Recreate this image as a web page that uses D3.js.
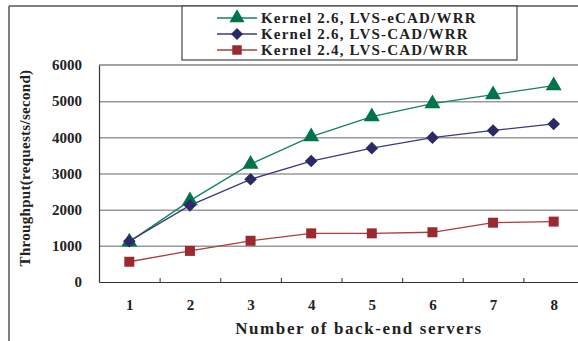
<!DOCTYPE html>
<html>
<head>
<meta charset="utf-8">
<script src="https://cdn.jsdelivr.net/npm/d3@7"></script>
<style>
  body { margin: 0; background: #fff; }
  svg { display: block; font-family: "Liberation Serif", "Times New Roman", serif; font-weight: bold; }
</style>
</head>
<body>
<svg id="chart" width="578" height="341"></svg>
<script>
// data
var servers = [1, 2, 3, 4, 5, 6, 7, 8];
var ecad26 = [1110, 2250, 3260, 4020, 4570, 4930, 5180, 5430];
var cad26 = [1130, 2120, 2840, 3345, 3700, 3990, 4190, 4370];
var cad24 = [560, 860, 1140, 1345, 1345, 1375, 1640, 1670];
var yTicks = [0, 1000, 2000, 3000, 4000, 5000, 6000];
var seriesNames = ["Kernel 2.6, LVS-eCAD/WRR", "Kernel 2.6, LVS-CAD/WRR", "Kernel 2.4, LVS-CAD/WRR"];

var svg = d3.select("#chart");

var plotLeft = 99, plotRight = 584, plotTop = 65, plotBottom = 282;

var x = d3.scaleLinear().domain([0.5, 8.5]).range([plotLeft, plotRight]);
var y = d3.scaleLinear().domain([0, 6000]).range([plotBottom, plotTop]);

// diamond = square turned 45deg
var series = [
  { name: seriesNames[0], values: ecad26, line: "#13845a", fill: "#00744a", shape: d3.symbolTriangle, size: 110, rot: 0 },
  { name: seriesNames[1], values: cad26, line: "#3b3b82", fill: "#2c2a66", shape: d3.symbolSquare, size: 80, rot: 45 },
  { name: seriesNames[2], values: cad24, line: "#b03a3e", fill: "#9a2a30", shape: d3.symbolSquare, size: 100, rot: 0 }
];

// outer frame (top + left only visible)
svg.append("line").attr("x1", 9).attr("x2", 578).attr("y1", 6).attr("y2", 6)
  .attr("stroke", "#555").attr("stroke-width", 1.5);
svg.append("line").attr("x1", 9).attr("x2", 9).attr("y1", 6).attr("y2", 341)
  .attr("stroke", "#555").attr("stroke-width", 1.5);

// gridlines
svg.append("g")
  .attr("transform", "translate(" + plotLeft + ",0)")
  .call(d3.axisLeft(y).tickValues(yTicks.slice(1, -1)).tickSize(-(plotRight - plotLeft)).tickFormat(""))
  .call(function(g) { g.select(".domain").remove(); })
  .selectAll("line").attr("stroke", "#999").attr("stroke-width", 1.5);

// plot border top
svg.append("line").attr("x1", plotLeft).attr("x2", 578).attr("y1", plotTop).attr("y2", plotTop)
  .attr("stroke", "#444").attr("stroke-width", 1.2);

// y axis labels
var yAxis = svg.append("g")
  .attr("transform", "translate(" + plotLeft + ",0)")
  .call(d3.axisLeft(y).tickValues(yTicks).tickSize(0).tickPadding(17).tickFormat(d3.format("d")));
yAxis.select(".domain").attr("stroke", "#333").attr("stroke-width", 1.2);
yAxis.selectAll("text").attr("font-family", "Liberation Serif").attr("font-weight", "bold")
  .attr("font-size", 15).attr("fill", "#222");

// x axis: ticks between categories
var xAxis = svg.append("g")
  .attr("transform", "translate(0," + plotBottom + ")")
  .call(d3.axisBottom(x).tickValues(servers.slice(0, -1).map(function(d) { return d + 0.5; }))
    .tickSize(-4).tickSizeOuter(0).tickFormat(""));
xAxis.select(".domain").attr("stroke", "#333").attr("stroke-width", 1.2);
xAxis.selectAll("line").attr("stroke", "#333");

var xLabels = svg.append("g")
  .attr("transform", "translate(0," + plotBottom + ")")
  .call(d3.axisBottom(x).tickValues(servers).tickSize(0).tickPadding(17));
xLabels.select(".domain").remove();
xLabels.selectAll("text").attr("font-family", "Liberation Serif").attr("font-weight", "bold")
  .attr("font-size", 15).attr("fill", "#222");

// axis titles
svg.append("text")
  .attr("x", 359).attr("y", 334)
  .attr("text-anchor", "middle")
  .attr("font-size", 17).attr("fill", "#222")
  .attr("letter-spacing", "1.6")
  .text("Number of back-end servers");

svg.append("text")
  .attr("transform", "translate(30,168) rotate(-90)")
  .attr("text-anchor", "middle")
  .attr("font-size", 15).attr("fill", "#222")
  .attr("letter-spacing", "0.3")
  .text("Throughput(requests/second)");

// lines and markers
var line = d3.line()
  .x(function(d, i) { return x(servers[i]); })
  .y(function(d) { return y(d); });

series.forEach(function(s) {
  svg.append("path")
    .datum(s.values)
    .attr("fill", "none")
    .attr("stroke", s.line)
    .attr("stroke-width", 1.3)
    .attr("d", line);
});

series.forEach(function(s) {
  svg.append("g").selectAll("path")
    .data(s.values)
    .join("path")
    .attr("transform", function(d, i) {
      return "translate(" + x(servers[i]) + "," + y(d) + ") rotate(" + s.rot + ")";
    })
    .attr("d", d3.symbol().type(s.shape).size(s.size))
    .attr("fill", s.fill);
});

// legend
var legend = svg.append("g");
legend.append("rect")
  .attr("x", 182).attr("y", 6).attr("width", 335).attr("height", 54)
  .attr("fill", "#fff").attr("stroke", "#444").attr("stroke-width", 1.2);

series.forEach(function(s, i) {
  var ly = 18 + i * 16;
  legend.append("line")
    .attr("x1", 217).attr("x2", 257).attr("y1", ly).attr("y2", ly)
    .attr("stroke", s.line).attr("stroke-width", 1.3);
  legend.append("path")
    .attr("transform", "translate(237," + ly + ") rotate(" + s.rot + ")")
    .attr("d", d3.symbol().type(s.shape).size(s.size * 0.9))
    .attr("fill", s.fill);
  legend.append("text")
    .attr("x", 261).attr("y", ly)
    .attr("dy", "0.35em")
    .attr("font-size", 15).attr("fill", "#222")
    .attr("letter-spacing", "1.2")
    .text(s.name);
});
</script>
</body>
</html>
